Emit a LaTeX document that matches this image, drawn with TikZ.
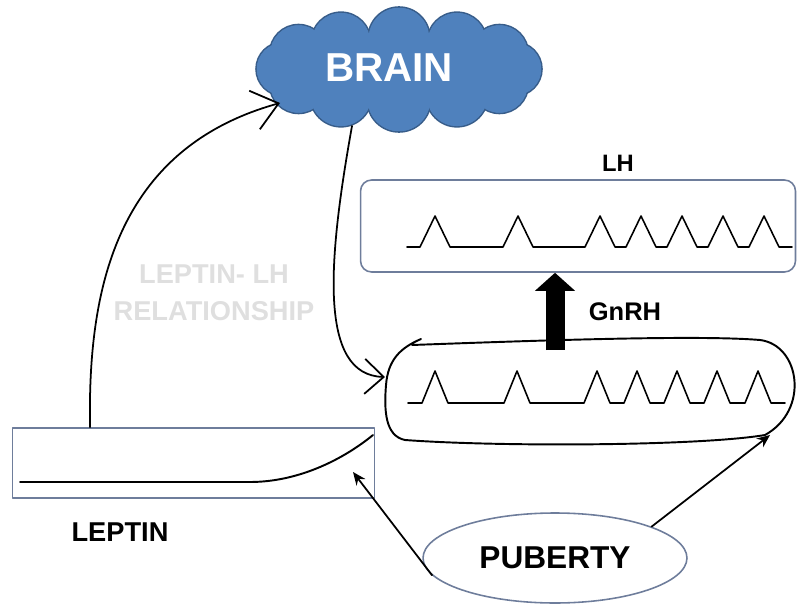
\documentclass[tikz,border=0pt]{standalone}
\usepackage{fontspec}
\setmainfont{Liberation Sans}
\usetikzlibrary{shapes.geometric,arrows.meta}

\definecolor{brainblue}{HTML}{4F81BD}
\definecolor{brainedge}{HTML}{385D8A}
\definecolor{boxedge}{RGB}{110,125,155}

\begin{document}
\begin{tikzpicture}[x=0.02cm, y=-0.02cm, line cap=round, line join=round,
  lbl/.style={font=\bfseries\fontsize{#1}{#1}\selectfont},
  frame/.style={draw=boxedge, line width=0.9pt},
  pulse/.style={line width=0.9pt},
  link/.style={line width=1pt}]

\useasboundingbox (0,0) rectangle (800,604);

% Brain (cloud of puffs)
\foreach \a/\r in {0/27,30/29,60/31,90/32,120/31,150/29,180/27,210/29,240/30,270/31,300/30,330/29}
  \filldraw[draw=brainedge, line width=0.9pt, fill=brainblue, shift={(399,69)}] (\a:116 and 31) circle (\r);
\foreach \a/\r in {0/27,30/29,60/31,90/32,120/31,150/29,180/27,210/29,240/30,270/31,300/30,330/29}
  \fill[brainblue, shift={(399,69)}] (\a:116 and 31) circle (\r-0.8);
\fill[brainblue] (399,69) ellipse (116 and 31);
\node[text=white, lbl=23] (brain) at (389,68) {BRAIN};

% LH box and pulses
\node[frame, rounded corners=0.22cm, minimum width=8.7cm, minimum height=1.84cm] (lhbox) at (578,226) {};
\node[lbl=13.5] (lh) at (618,163) {LH};
\draw[pulse] (407,247) -- (420,247) -- (435,216) -- (450,247) -- (503,247)
  -- (518,216) -- (533,247) -- (585,247)
  \foreach \p in {600,641,682,723,764} { -- (\p-15,247) -- (\p,216) -- (\p+15,247) }
  -- (792,247);

% GnRH pulses and loop around them
\draw[pulse] (408,403) -- (422,403) -- (435,371) -- (448,403) -- (504,403)
  -- (517,371) -- (530,403) -- (584,403)
  \foreach \p in {597,637,677,717,758} { -- (\p-13,403) -- (\p,371) -- (\p+13,403) }
  -- (785,403);
\draw[link, line width=1.1pt] (412,345) .. controls (550,340) and (700,335) .. (760,340)
  .. controls (800,345) and (810,410) .. (765,435)
  .. controls (700,446) and (500,447) .. (405,440)
  .. controls (385,436) and (384,410) .. (386,385)
  .. controls (388,360) and (400,348) .. (421,339);

% GnRH arrow
\coordinate (gnrhfoot) at (555,350);
\draw[line width=0.38cm, line cap=butt, -{Triangle[length=0.36cm,width=0.78cm]}]
  (gnrhfoot) -- (gnrhfoot |- lhbox.south);
\node[lbl=14.5] (gnrh) at (625,312) {GnRH};

% Leptin box and curve
\node[frame, minimum width=7.24cm, minimum height=1.4cm] (lepbox) at (193.5,463) {};
\draw[pulse, line width=1.1pt] (20,482) -- (250,482) .. controls (300,482) and (345,458) .. (373,435);
\node[lbl=15.5] (leptin) at (120,532) {LEPTIN};

% Relationship label
\node[font=\bfseries\fontsize{15.5}{21}\selectfont, text=gray!25, align=center] (rel) at (214,293)
  {LEPTIN- LH\\RELATIONSHIP};

% Puberty
\node[ellipse, frame, minimum width=5.28cm, minimum height=1.8cm, lbl=18] (pub) at (555,558) {PUBERTY};

% Connectors
\coordinate (brainin) at (280,103);
\coordinate (brainout) at (352,126);
\coordinate (loopin) at (385,377);
\coordinate (loopright) at (770,435);
\coordinate (lepin) at (353,472);
\draw[link, -{Straight Barb[length=0.5cm,width=0.8cm]}]
  (90,0 |- lepbox.north) .. controls (88,300) and (110,150) .. (brainin);
\draw[link, -{Straight Barb[length=0.38cm,width=0.7cm]}]
  (brainout) .. controls (328,260) and (318,375) .. (loopin);
\draw[link, -{Stealth[length=2.6mm,width=2.2mm]}] (pub.18) -- (loopright);
\draw[link, -{Stealth[length=2.6mm,width=2.2mm]}] (pub.188) -- (lepin);

\end{tikzpicture}
\end{document}
